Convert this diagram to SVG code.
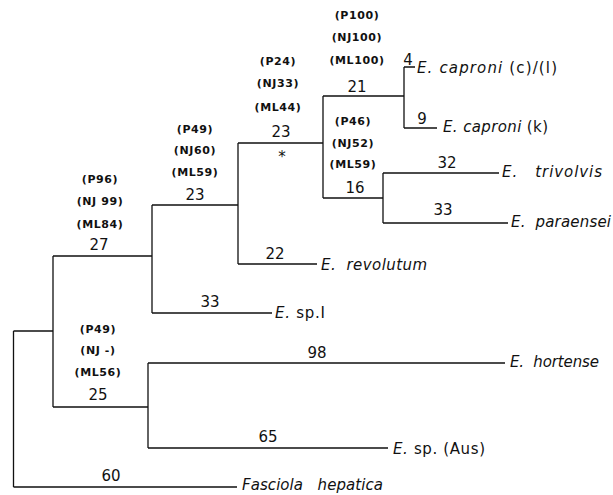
<svg xmlns="http://www.w3.org/2000/svg" width="613" height="495" viewBox="0 0 613 495">
<style>
.ln{fill:none;stroke:#111;stroke-width:1.3}
.sup{font-family:"DejaVu Sans",sans-serif;font-weight:bold;font-size:11px;letter-spacing:0.6px;fill:#111;text-anchor:middle}
.num{font-family:"DejaVu Sans",sans-serif;font-size:15px;fill:#111;text-anchor:middle}
.tx{font-family:"DejaVu Sans",sans-serif;font-size:15px;fill:#111}
.it{font-style:italic}
</style>
<rect width="613" height="495" fill="#fff"/>
<g id="connectors">
<path class="ln" d="M13.5,331V487M13.5,331H53M13.5,487H237"/>
<path class="ln" d="M53,256V407M53,256H152M53,407H148"/>
<path class="ln" d="M152,205V313M152,205H238M152,313H272"/>
<path class="ln" d="M238,143V264M238,143H323M238,264H317"/>
<path class="ln" d="M323,96V198M323,96H404M323,198H383"/>
<path class="ln" d="M404,67V128M404,67H415M404,128H437"/>
<path class="ln" d="M383,173V223M383,173H499M383,223H508"/>
<path class="ln" d="M148,363V448M148,363H505M148,448H388"/>
</g>
<g id="node-a">
<text class="sup" x="100" y="183">(P96)</text>
<text class="sup" x="100" y="205">(NJ 99)</text>
<text class="sup" x="100" y="228">(ML84)</text>
<text class="num" x="99" y="250">27</text>
</g>
<g id="node-b">
<text class="sup" x="195" y="133">(P49)</text>
<text class="sup" x="195" y="154">(NJ60)</text>
<text class="sup" x="195" y="176">(ML59)</text>
<text class="num" x="195" y="200">23</text>
</g>
<g id="node-c">
<text class="sup" x="278" y="65">(P24)</text>
<text class="sup" x="278" y="87">(NJ33)</text>
<text class="sup" x="278" y="111">(ML44)</text>
<text class="num" x="281" y="137">23</text>
<text class="num" x="282" y="162">*</text>
</g>
<g id="node-d">
<text class="sup" x="357" y="19">(P100)</text>
<text class="sup" x="357" y="41">(NJ100)</text>
<text class="sup" x="357" y="64">(ML100)</text>
<text class="num" x="357" y="92">21</text>
</g>
<g id="node-f">
<text class="sup" x="353" y="125">(P46)</text>
<text class="sup" x="353" y="147">(NJ52)</text>
<text class="sup" x="353" y="168">(ML59)</text>
<text class="num" x="355" y="193">16</text>
</g>
<g id="node-g">
<text class="sup" x="98" y="333">(P49)</text>
<text class="sup" x="98" y="354">(NJ -)</text>
<text class="sup" x="98" y="376">(ML56)</text>
<text class="num" x="98" y="400">25</text>
</g>
<g id="taxon-caproni-cl">
<text class="num" x="408" y="65">4</text>
<text class="tx" x="417" y="73" textLength="140" lengthAdjust="spacing"><tspan class="it">E.  caproni</tspan> (c)/(l)</text>
</g>
<g id="taxon-caproni-k">
<text class="num" x="422" y="124">9</text>
<text class="tx" x="443" y="132" textLength="105" lengthAdjust="spacing"><tspan class="it">E.  caproni</tspan> (k)</text>
</g>
<g id="taxon-trivolvis">
<text class="num" x="447" y="168">32</text>
<text class="tx it" x="502" y="177" xml:space="preserve" textLength="100" lengthAdjust="spacing">E.   trivolvis</text>
</g>
<g id="taxon-paraensei">
<text class="num" x="443" y="215">33</text>
<text class="tx it" x="511" y="227" xml:space="preserve" textLength="100" lengthAdjust="spacing">E.  paraensei</text>
</g>
<g id="taxon-revolutum">
<text class="num" x="275" y="259">22</text>
<text class="tx it" x="321" y="270" xml:space="preserve" textLength="106" lengthAdjust="spacing">E.  revolutum</text>
</g>
<g id="taxon-spI">
<text class="num" x="210" y="307">33</text>
<text class="tx" x="275" y="318" textLength="50" lengthAdjust="spacing"><tspan class="it">E.</tspan> sp.I</text>
</g>
<g id="taxon-hortense">
<text class="num" x="317" y="358">98</text>
<text class="tx it" x="510" y="367" xml:space="preserve" textLength="89" lengthAdjust="spacing">E.  hortense</text>
</g>
<g id="taxon-spAus">
<text class="num" x="268" y="442">65</text>
<text class="tx" x="393" y="454" textLength="92" lengthAdjust="spacing"><tspan class="it">E.</tspan> sp. (Aus)</text>
</g>
<g id="taxon-fasciola">
<text class="num" x="111" y="481">60</text>
<text class="tx it" x="242" y="490" xml:space="preserve" textLength="141" lengthAdjust="spacing">Fasciola   hepatica</text>
</g>
</svg>
